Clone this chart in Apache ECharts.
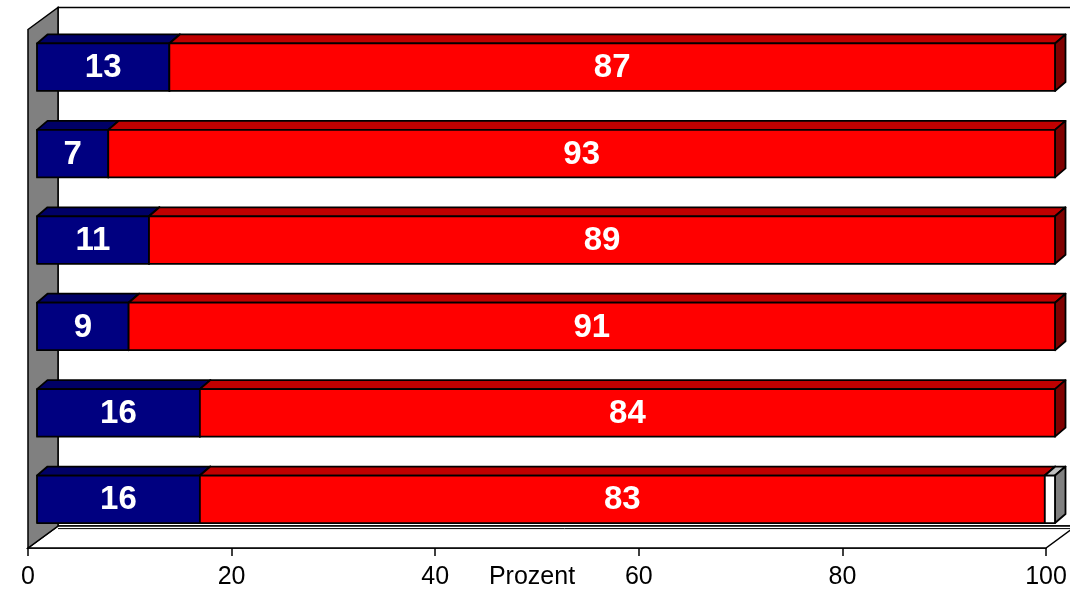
<!DOCTYPE html>
<html>
<head>
<meta charset="utf-8">
<script src="https://cdn.jsdelivr.net/npm/echarts@6/dist/echarts.min.js"></script>
<style>
html,body{margin:0;padding:0;background:#fff;}
#chart{width:1070px;height:591px;}
</style>
</head>
<body>
<div id="chart"></div>
<script>
// ---- data ----
const categories = ['Gruppe 1', 'Gruppe 2', 'Gruppe 3', 'Gruppe 4', 'Gruppe 5', 'Gruppe 6'];
const blueValues = [13, 7, 11, 9, 16, 16];
const redValues = [87, 93, 89, 91, 84, 83];
const restValues = [0, 0, 0, 0, 0, 1];
const axisMin = 0, axisMax = 100, axisInterval = 20;
const axisTitle = 'Prozent';

// ---- build stacked segments ----
function segments(values, offsets) {
  return values.map((v, i) => [offsets[i], offsets[i] + v, i, v]);
}
const zeros = categories.map(() => 0);
const blueSeg = segments(blueValues, zeros);
const redSeg = segments(redValues, blueValues);
const restSeg = segments(restValues, blueValues.map((b, i) => b + redValues[i]));

const FONT = '"Liberation Sans", Arial, sans-serif';
// pixel geometry of the 3D look
const FRONT_DX = 9, FRONT_DY = -5.5;   // bar front face offset from front plane
const DEPTH_DX = 10.5, DEPTH_DY = -9;  // bar depth
const WALL_DX = 30, WALL_DY = -22;     // wall depth

function barRenderer(colors, showLabel) {
  return function (params, api) {
    const start = api.value(0), end = api.value(1), cat = api.value(2), val = api.value(3);
    if (end - start <= 0) return null;
    const p0 = api.coord([start, cat]);
    const p1 = api.coord([end, cat]);
    const band = api.size([0, 1])[1];
    const h = band * 0.55;
    const x0 = p0[0] + FRONT_DX, x1 = p1[0] + FRONT_DX;
    const yc = p0[1] + FRONT_DY;
    const yT = yc - h / 2, yB = yc + h / 2;
    const stroke = {stroke: '#000', lineWidth: 1.8, lineJoin: 'round'};
    const children = [
      {type: 'polygon', shape: {points: [[x0, yT], [x1, yT], [x1 + DEPTH_DX, yT + DEPTH_DY], [x0 + DEPTH_DX, yT + DEPTH_DY]]},
       style: Object.assign({fill: colors.top}, stroke)},
      {type: 'polygon', shape: {points: [[x1, yT], [x1 + DEPTH_DX, yT + DEPTH_DY], [x1 + DEPTH_DX, yB + DEPTH_DY], [x1, yB]]},
       style: Object.assign({fill: colors.side}, stroke)},
      {type: 'rect', shape: {x: x0, y: yT, width: x1 - x0, height: yB - yT},
       style: Object.assign({fill: colors.front}, stroke)}
    ];
    if (showLabel) {
      children.push({type: 'text', style: {
        text: String(val), x: (x0 + x1) / 2, y: yc + 1, align: 'center', verticalAlign: 'middle',
        fill: '#fff', font: 'bold 33px ' + FONT}});
    }
    return {type: 'group', children: children};
  };
}

function wallRenderer(params, api) {
  const cs = params.coordSys;
  const L = cs.x, T = cs.y, R = cs.x + cs.width, B = cs.y + cs.height;
  const blk = {stroke: '#000', lineWidth: 1.5};
  return {type: 'group', children: [
    {type: 'rect', shape: {x: L + WALL_DX, y: T + WALL_DY, width: cs.width + 10, height: cs.height},
     style: Object.assign({fill: '#fff'}, blk)},
    {type: 'polygon', shape: {points: [[L, B], [L + WALL_DX, B + WALL_DY], [R + WALL_DX, B + WALL_DY], [R, B]]},
     style: Object.assign({fill: '#fff'}, blk)},
    {type: 'line', shape: {x1: L + WALL_DX, y1: B + WALL_DY + 2.6, x2: R + WALL_DX + 10, y2: B + WALL_DY + 2.6},
     style: {stroke: '#000', lineWidth: 1}},
    {type: 'polygon', shape: {points: [[L, T], [L + WALL_DX, T + WALL_DY], [L + WALL_DX, B + WALL_DY], [L, B]]},
     style: Object.assign({fill: '#808080'}, blk)}
  ]};
}

const chart = echarts.init(document.getElementById('chart'), null, {renderer: 'canvas'});
chart.setOption({
  animation: false,
  backgroundColor: '#fff',
  grid: {left: 28, right: 24, top: 29.5, bottom: 43, containLabel: false, outerBoundsMode: 'none'},
  xAxis: {
    type: 'value', min: axisMin, max: axisMax, interval: axisInterval,
    axisLine: {show: true, lineStyle: {color: '#000', width: 1.5}},
    axisTick: {show: true, length: 8, lineStyle: {color: '#000', width: 1.5}},
    splitLine: {show: false},
    axisLabel: {color: '#000', fontSize: 25, fontFamily: FONT, margin: 17},
    name: axisTitle, nameLocation: 'middle', nameGap: 17, nameMoveOverlap: false,
    nameTextStyle: {color: '#000', fontSize: 25, fontFamily: FONT, verticalAlign: 'top', padding: [0, 10, 0, 0]}
  },
  yAxis: {
    type: 'category', data: categories, inverse: true,
    axisLine: {show: false}, axisTick: {show: false}, axisLabel: {show: false}, splitLine: {show: false}
  },
  series: [
    {type: 'custom', name: 'walls', z: 1, data: [[0, 0]], renderItem: wallRenderer, silent: true},
    {type: 'custom', name: 'blau', z: 3, data: blueSeg, encode: {x: [0, 1], y: 2},
     renderItem: barRenderer({front: '#000080', top: '#000066', side: '#000040'}, true)},
    {type: 'custom', name: 'rot', z: 4, data: redSeg, encode: {x: [0, 1], y: 2},
     renderItem: barRenderer({front: '#FF0000', top: '#C00000', side: '#800000'}, true)},
    {type: 'custom', name: 'weiss', z: 5, data: restSeg, encode: {x: [0, 1], y: 2},
     renderItem: barRenderer({front: '#FFFFFF', top: '#C0C0C0', side: '#808080'}, false)}
  ]
});
</script>
</body>
</html>
